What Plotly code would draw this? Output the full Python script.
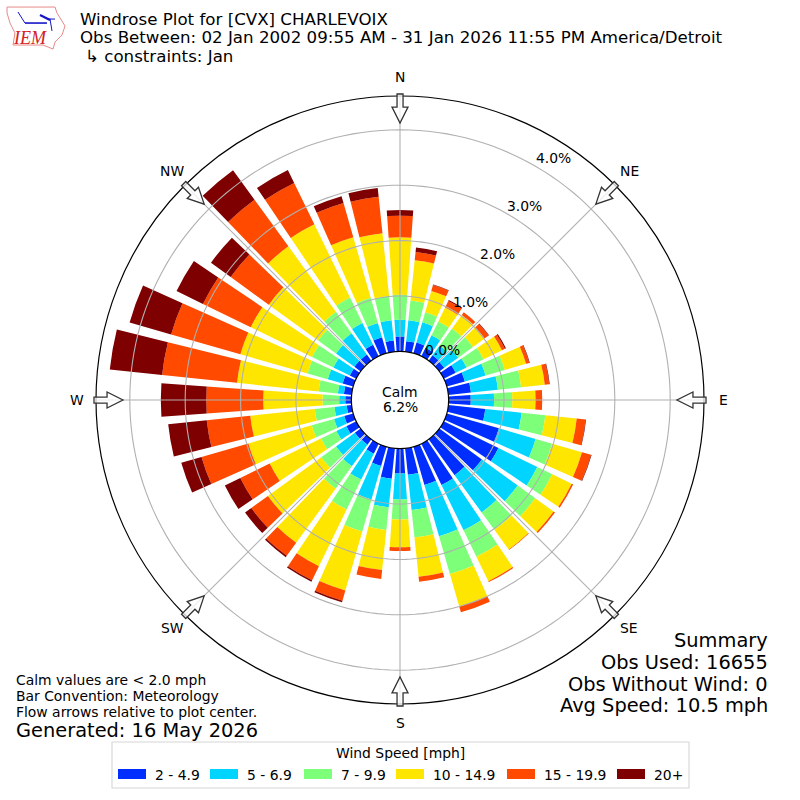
import math
import numpy as np
import plotly.graph_objects as go

# windrose values, percent of obs per direction bin
directions = list(range(0, 360, 10))
speed_labels = ["2 - 4.9", "5 - 6.9", "7 - 9.9", "10 - 14.9", "15 - 19.9", "20+"]
speed_colors = ["#002eff", "#00d4ff", "#7dff7a", "#ffe600", "#ff4a00", "#7f0000"]

s_2_5 = [.27, .19, .20, .17, .12, .11, .24, .34, .41, .40, .67, .98, 1.10, .95, .80, .83, .72, .48,
         .45, .55, .36, .20, .12, .13, .20, .17, .09, .11, .14, .20, .13, .14, .14, .23, .30, .20]
s_5_7 = [.30, .38, .38, .25, .22, .31, .22, .39, .49, .42, .66, .69, .78, .80, .83, .91, .96, .64,
         .47, .52, .63, .52, .48, .42, .20, .19, .22, .11, .11, .28, .33, .41, .47, .44, .27, .37]
s_7_10 = [.45, .36, .19, .28, .38, .33, .34, .36, .42, .33, .43, .31, .30, .39, .39, .53, .71, .50,
          .36, .41, .60, .60, .50, .33, .31, .42, .36, .30, .35, .38, .43, .40, .48, .51, .47, .44]
s_10_15 = [1.04, .73, .40, .28, .30, .26, .37, .40, .43, .42, .57, .56, .39, .41, .44, .49, .61, .71,
           .50, .73, 1.11, 1.14, 1.21, 1.19, 1.03, 1.19, 1.17, 1.07, 1.48, 1.26, 1.23, 1.10, 1.46, 1.47, 1.14, 1.14]
s_15_20 = [.39, .15, .11, .13, .06, .09, .06, .06, .08, .12, .16, .17, .03, .03, .01, .02, .11, .09,
           .07, .16, .19, .28, .29, .37, .59, .88, .79, 1.03, 1.36, 1.30, .96, .85, 1.04, .83, .64, .66]
s_20_up = [.10, .08, .01, .02, 0, .01, .02, .01, .01, 0, .01, .01, 0, 0, 0, 0, 0, 0,
           0, 0, .03, .03, .03, .14, .31, .38, .70, .82, .95, .78, .53, .44, .66, .26, .13, .16]
speed_series = [s_2_5, s_5_7, s_7_10, s_10_15, s_15_20, s_20_up]

compass_vals = [0, 45, 90, 135, 180, 225, 270, 315]
compass_text = ["N", "NE", "E", "SE", "S", "SW", "W", "NW"]
compass_pos = [(400, 77), (629, 171), (723, 400), (629, 628), (400, 723), (172, 628), (77, 400), (172, 171)]
ring_vals = [1, 2, 3, 4]
ring_text = ["0.0%", "1.0%", "2.0%", "3.0%", "4.0%"]
ring_pos = [(442, 350), (470, 302), (497, 254), (524, 206), (553, 158)]

FONT = "DejaVu Sans"
RMAX = 4.61


def px(x):
    return x / 800


def py(y):
    return 1 - y / 800


def text(x, y, s, size, anchor="left", color="black", family=FONT, **kw):
    # annotations sit about 2px inside their anchor
    if anchor == "left":
        x -= 2
    if anchor == "right":
        x += 2
    return dict(x=px(x), y=py(y), xref="paper", yref="paper", text=s, showarrow=False,
                xanchor=anchor, yanchor="middle", font=dict(family=family, size=size, color=color), **kw)


fig = go.Figure()
for name, color, vals in zip(speed_labels, speed_colors, speed_series):
    fig.add_trace(go.Barpolar(r=vals, theta=directions, width=8, name=name,
                              marker=dict(color=color, line=dict(width=0)), showlegend=False))

# matplotlib draws the grid over the bars
circle = np.arange(0, 361, 2)
for v in ring_vals:
    fig.add_trace(go.Scatterpolar(r=[v] * len(circle), theta=circle, mode="lines", showlegend=False,
                                  hoverinfo="skip", line=dict(color="#b0b0b0", width=1.1)))
for a in compass_vals:
    fig.add_trace(go.Scatterpolar(r=[0, RMAX], theta=[a, a], mode="lines", showlegend=False,
                                  hoverinfo="skip", line=dict(color="#b0b0b0", width=1.1)))

shapes = []

# flow arrows on the compass points
arrow = [(306, -3), (293, -3), (293, -8), (277, 0), (293, 8), (293, 3), (306, 3)]
for a in compass_vals:
    t = math.radians(a)
    pts = []
    for r, w in arrow:
        x = 400 + r * math.sin(t) + w * math.cos(t)
        y = 400 - r * math.cos(t) + w * math.sin(t)
        pts.append("%.4f,%.4f" % (px(x), py(y)))
    shapes.append(dict(type="path", xref="paper", yref="paper", path="M" + " L".join(pts) + " Z",
                       fillcolor="rgba(255,255,255,0.75)", line=dict(color="#333333", width=1.3)))


# legend box drawn by hand, the native swatch is too small
def rect(x0, y0, x1, y1, **kw):
    return dict(type="rect", xref="paper", yref="paper", x0=px(x0), y0=py(y0), x1=px(x1), y1=py(y1), **kw)


shapes.append(rect(112, 742, 689, 788, line=dict(color="#d5d5d5", width=1.1), fillcolor="white"))
swatch_x = [118, 210, 304, 396, 507, 617]
annotations = [text(400, 753, "Wind Speed [mph]", 13.9, "center")]
for x, name, color in zip(swatch_x, speed_labels, speed_colors):
    shapes.append(rect(x, 769, x + 28, 779, line=dict(width=0), fillcolor=color))
    annotations.append(text(x + 37, 775, name, 13.9))


# logo, rough redraw of the IEM mark
def logo_path(points, close=False):
    s = "M" + " L".join("%.4f,%.4f" % (px(x), py(y)) for x, y in points)
    return s + (" Z" if close else "")


outline = [(7, 7), (55, 7), (57, 13), (65, 26), (62, 35), (55, 42), (53, 49), (43, 45), (13, 45), (15, 33), (10, 23), (7, 13)]
shapes.append(dict(type="path", xref="paper", yref="paper", path=logo_path(outline, True),
                   line=dict(color="#e88a8a", width=1)))
for seg, w in [([(25, 23), (47, 23)], 1.6), ([(18, 12), (25, 23)], 1), ([(40, 15), (50, 20)], 2.2),
               ([(47, 19), (55, 19)], 1), ([(50, 19), (52, 31)], 1)]:
    shapes.append(dict(type="path", xref="paper", yref="paper", path=logo_path(seg),
                       line=dict(color="#1414c8", width=w)))
annotations.append(text(30, 38, "<i>IEM</i>", 18, "center", color="#d42020", family="Liberation Serif"))

# compass and ring labels as plain text, plotly rotates the radial ones
for (x, y), s in zip(compass_pos, compass_text):
    annotations.append(text(x, y, s, 13.9, "center"))
for (x, y), s in zip(ring_pos, ring_text):
    annotations.append(text(x, y, s, 13.9, "center"))

# titles
annotations += [
    text(80, 19.5, "Windrose Plot for [CVX] CHARLEVOIX", 16.67),
    text(80, 38, "Obs Between: 02 Jan 2002 09:55 AM - 31 Jan 2026 11:55 PM America/Detroit", 16.67),
    text(85, 56, "↳ constraints: Jan", 16.67),
    text(400, 392, "Calm", 13.9, "center"),
    text(400, 407, "6.2%", 13.9, "center"),
    text(16, 680, "Calm values are &lt; 2.0 mph", 13.9),
    text(16, 696, "Bar Convention: Meteorology", 13.9),
    text(16, 712, "Flow arrows relative to plot center.", 13.9),
    text(16, 730, "Generated: 16 May 2026", 19.4),
    text(768, 640, "Summary", 19.4, "right"),
    text(768, 662, "Obs Used: 16655", 19.4, "right"),
    text(768, 684, "Obs Without Wind: 0", 19.4, "right"),
    text(768, 705, "Avg Speed: 10.5 mph", 19.4, "right"),
]

fig.update_layout(
    width=800, height=800, margin=dict(l=0, r=0, t=0, b=0),
    paper_bgcolor="white", font=dict(family=FONT, size=14, color="black"),
    shapes=shapes, annotations=annotations,
    polar=dict(
        domain=dict(x=[0.12, 0.88], y=[0.12, 0.88]),
        hole=0.16, barmode="stack", bgcolor="white",
        angularaxis=dict(rotation=90, direction="clockwise", tickmode="array", tickvals=compass_vals,
                         ticktext=compass_text, showgrid=False, ticks="", showticklabels=False,
                         showline=True, linecolor="black", linewidth=1.2),
        radialaxis=dict(range=[0, RMAX], showgrid=False, showline=False, ticks="", showticklabels=False),
    ),
)

fig.write_html("out.html", config=dict(displayModeBar=False), post_script="document.body.style.margin='0';")
